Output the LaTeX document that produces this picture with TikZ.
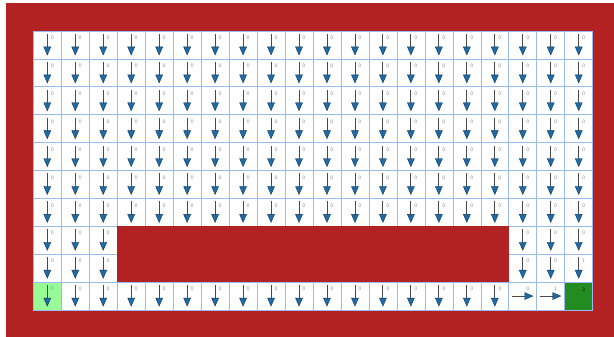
\documentclass[tikz,border=0pt]{standalone}
\usepackage{fontspec}
\setmainfont{DejaVu Sans}
\definecolor{wallred}{HTML}{B22222}
\definecolor{startgreen}{HTML}{98FB98}
\definecolor{goalgreen}{HTML}{228B22}
\definecolor{gridblue}{HTML}{9DB9F2}
\definecolor{headblue}{HTML}{1B6CAB}
\definecolor{headdark}{HTML}{1A3550}
\definecolor{shaftgray}{HTML}{4A4A4A}
\tikzset{
  shaft/.style={draw=shaftgray, line width=0.9pt},
  headtri/.style={fill=headblue, draw=headdark, line width=0.4pt, line join=miter},
  vlabel/.style={font=\fontsize{4.8}{5}\selectfont, text=gray!85, inner sep=0pt},
  goallabel/.style={font=\fontsize{4.8}{5}\selectfont, text=black!75!goalgreen, inner sep=0pt}
}
\begin{document}
\begin{tikzpicture}[x=1pt,y=-1pt]
\useasboundingbox (0,0) rectangle (614,337);
\fill[white] (0,0) rectangle (614,337);
\fill[wallred] (6,3) rectangle (614,337);
\fill[white] (33.3,31) rectangle (592.7,310);
% start and goal cells
\fill[startgreen] (33.3,{31+9*27.9}) rectangle ({33.3+27.97},310);
\fill[goalgreen] ({33.3+19*27.97},{31+9*27.9}) rectangle (592.7,310);
% grid lines
\foreach \c in {0,...,20}{
  \draw[gridblue, line width=0.6pt] ({33.3+\c*27.97},31) -- ({33.3+\c*27.97},310);
}
\foreach \r in {0,...,10}{
  \draw[gridblue, line width=0.6pt] (33.3,{31+\r*27.9}) -- (592.7,{31+\r*27.9});
}
% inner wall
\fill[wallred] ({33.3+3*27.97},{31+7*27.9}) rectangle ({33.3+17*27.97},{31+9*27.9});
% arrows and values
\foreach \r in {0,...,9}{
  \foreach \c in {0,...,19}{
    \pgfmathsetmacro\cx{33.3+(\c+0.5)*27.97}
    \pgfmathsetmacro\cy{31+(\r+0.5)*27.9}
    \pgfmathtruncatemacro\wall{and(and(\r>6,\r<9),and(\c>2,\c<17))}
    \pgfmathtruncatemacro\right{and(\r==9,or(\c==17,\c==18))}
    \pgfmathtruncatemacro\goal{and(\r==9,\c==19)}
    \pgfmathtruncatemacro\one{or(and(\r==8,\c==19),and(\r==9,\c==18))}
    \ifnum\wall=0
      \ifnum\goal=1
        \node[goallabel] (v-\r-\c) at ({\cx+5},{\cy-6}) {3};
      \else
        \ifnum\right=1
          \draw[shaft] ({\cx-11},\cy) -- ({\cx+3},\cy);
          \filldraw[headtri] ({\cx+2},{\cy-3.5}) -- ({\cx+10},\cy) -- ({\cx+2},{\cy+3.5}) -- cycle;
        \else
          \draw[shaft] (\cx,{\cy-11}) -- (\cx,{\cy+3});
          \filldraw[headtri] ({\cx-3.5},{\cy+2}) -- ({\cx+3.5},{\cy+2}) -- (\cx,{\cy+10}) -- cycle;
        \fi
        \ifnum\one=1
          \node[vlabel] (v-\r-\c) at ({\cx+5},{\cy-7}) {1};
        \else
          \node[vlabel] (v-\r-\c) at ({\cx+5},{\cy-7}) {0};
        \fi
      \fi
    \fi
  }
}
\end{tikzpicture}
\end{document}
